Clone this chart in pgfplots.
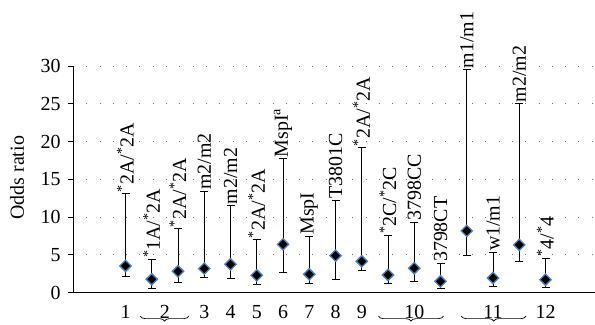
\documentclass[border=0pt]{standalone}
\usepackage{pgfplots}
\pgfplotsset{compat=1.18}
\usepackage{fontspec}
\setmainfont{Liberation Serif}
\usetikzlibrary{decorations.pathreplacing}
\definecolor{mblue}{RGB}{79,129,189}
\newcommand{\fs}{\fontsize{20}{22}\selectfont}
\newcommand{\s}{\textsuperscript{*}}
\begin{document}
\begin{tikzpicture}
\path[use as bounding box] (-73bp,-32.3bp) rectangle (522bp,292.7bp);
\begin{axis}[
  scale only axis,
  width=522.4bp, height=226.7bp,
  xmin=-1, xmax=18.9, ymin=0, ymax=30,
  axis x line=bottom, axis y line=left,
  axis line style={-, line width=0.9bp, black},
  ytick={0,5,...,30},
  xtick={1,2.5,4,5,6,7,8,9,10,12,15,17},
  xticklabels={1,2,3,4,5,6,7,8,9,10,11,12},
  x tick style={draw=none},
  y tick style={line width=0.9bp, black},
  tick align=outside, major tick length=5bp,
  ymajorgrids,
  major grid style={black!55, line width=0.9bp, dash pattern=on 0.9bp off 12.4bp},
  tick label style={font=\fs},
  /pgf/number format/assume math mode=true,
  xticklabel style={yshift=-4bp},
  yticklabel style={xshift=-4bp},
  clip=false,
]
\addplot[only marks, mark=square*, mark size=4bp,
  mark options={rotate=45, fill=black, draw=mblue, line width=1.3bp},
  error bars/.cd, y dir=both, y explicit,
  error bar style={black, line width=0.9bp},
  error mark options={rotate=90, black, line width=0.9bp, mark size=4bp}]
table[x=x, y=y, y error plus=ep, y error minus=em] {
x y ep em
1 3.54 9.56 1.37
2 1.78 2.60 1.25
3 2.83 5.62 1.45
4 3.19 10.21 1.11
5 3.76 7.74 1.86
6 2.30 4.70 1.15
7 6.40 11.30 3.66
8 2.44 5.04 1.20
9 4.90 7.30 3.12
10 4.16 15.00 1.16
11 2.35 5.21 1.06
12 3.24 6.10 1.73
13 1.51 2.34 0.98
14 8.18 21.32 3.31
15 1.95 3.35 1.15
16 6.33 18.67 2.26
17 1.72 2.84 1.00
};
\addplot[draw=none, mark=none, nodes near coords, point meta=explicit symbolic,
  nodes near coords style={rotate=90, anchor=west, font=\fs, inner sep=1.5bp}]
coordinates {
(1,13.1) [\s2A/\s2A]
(2,4.38) [\s1A/\s2A]
(3,8.45) [\s2A/\s2A]
(4,13.4) [m2/m2]
(5,11.5) [m2/m2]
(6,7.0) [\s2A/\s2A]
(7,17.7) [MspI\textsuperscript{a}]
(8,7.48) [MspI]
(9,12.2) [T3801C]
(10,19.15) [\s2A/\s2A]
(11,7.56) [\s2C/\s2C]
(12,9.34) [3798CC]
(13,3.85) [3798CT]
(14,29.5) [m1/m1]
(15,5.3) [w1/m1]
(16,25.0) [m2/m2]
(17,4.56) [\s4/\s4]
};
\node[rotate=90, font=\fs, anchor=center] at (axis description cs:-0.1072,0.507) {Odds ratio};
\draw[decorate, decoration={brace, mirror, amplitude=5bp}, line width=0.7bp]
  (axis cs:1.56,-3.1) -- (axis cs:3.41,-3.1);
\draw[decorate, decoration={brace, mirror, amplitude=5bp}, line width=0.7bp]
  (axis cs:10.64,-3.1) -- (axis cs:13.11,-3.1);
\draw[decorate, decoration={brace, mirror, amplitude=5bp}, line width=0.7bp]
  (axis cs:13.79,-3.1) -- (axis cs:16.26,-3.1);
\end{axis}
\end{tikzpicture}
\end{document}
